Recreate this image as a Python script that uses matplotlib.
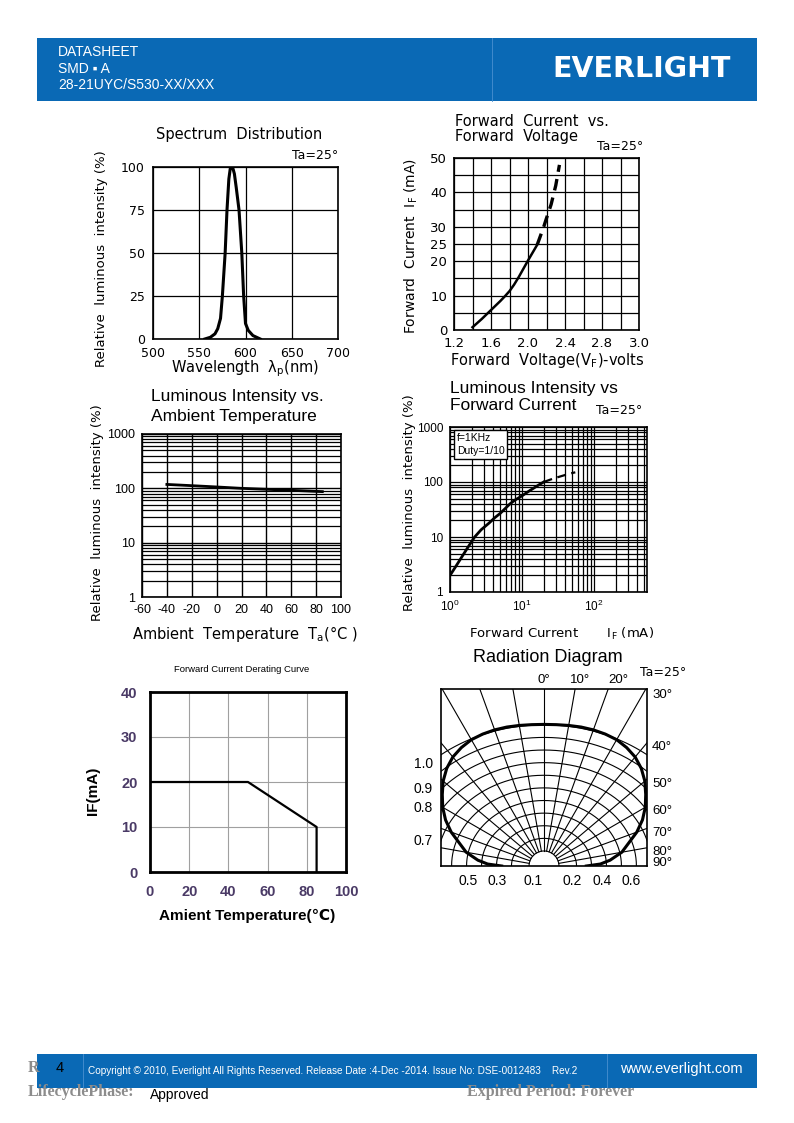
import numpy as np
import matplotlib
matplotlib.use('Agg')
import matplotlib.pyplot as plt
from matplotlib.patches import Rectangle
from matplotlib.transforms import blended_transform_factory

W, H = 794, 1123

# Spectrum distribution
spec_wl = [556, 562, 567, 570, 573, 575, 578, 580, 582, 583.5, 585, 586.5, 588, 590, 593, 596, 598, 600, 603, 608, 616]
spec_rel = [0, 1, 3, 6, 12, 25, 50, 75, 93, 99, 100, 99, 96, 88, 75, 50, 25, 9, 5, 2, 0]
spec_xticks = [500, 550, 600, 650, 700]
spec_yticks = [0, 25, 50, 75, 100]

# Forward current vs forward voltage
fv_solid_v = [1.40, 1.50, 1.60, 1.70, 1.75, 1.80, 1.85, 1.90, 1.95, 2.00, 2.05, 2.10]
fv_solid_i = [0.8, 3.2, 5.8, 8.4, 9.8, 11.3, 13.2, 15.4, 17.8, 20.2, 22.5, 24.8]
fv_dash_v = [2.10, 2.17, 2.20, 2.25, 2.30, 2.34]
fv_dash_i = [24.8, 30.0, 32.5, 36.5, 42.0, 48.0]
fv_xticks = [1.2, 1.6, 2.0, 2.4, 2.8, 3.2]
fv_xlabels = ['1.2', '1.6', '2.0', '2.4', '2.8', '3.0']
fv_yticks = [0, 10, 20, 25, 30, 40, 50]

# Luminous intensity vs ambient temperature
ta_temp = [-40, -20, 0, 20, 40, 60, 85]
ta_iv = [118, 112, 106, 100, 96, 92, 87]
ta_xticks = [-60, -40, -20, 0, 20, 40, 60, 80, 100]
log_yticks = [1, 10, 100, 1000]
log_ylabels = ['1', '10', '100', '1000']

# Luminous intensity vs forward current
if_solid_i = [1, 1.2, 1.5, 1.8, 2.2, 2.7, 3.5, 4.2, 5, 6.8, 8, 10, 12, 14, 17, 20]
if_solid_iv = [2, 2.9, 4.6, 6.7, 10, 13.5, 18, 22.5, 27, 40, 47, 56, 66, 75, 88, 100]
if_dash_i = [20, 25, 30, 36, 42, 48, 55]
if_dash_iv = [100, 111, 120, 129, 137, 144, 150]

# Derating curve
der_temp = [0, 50, 85, 85]
der_if = [20, 20, 10, 0]
der_xticks = [0, 20, 40, 60, 80, 100]
der_yticks = [0, 10, 20, 30, 40]

# Radiation diagram (relative radius vs angle)
rad_angle = [0, 5, 10, 15, 20, 25, 30, 35, 40, 45, 50, 55, 60, 65, 70, 75, 80, 85, 88, 90]
rad_rel = [1.0, 1.002, 1.008, 1.016, 1.023, 1.028, 1.03, 1.021, 1.005, 0.975, 0.933, 0.88,
           0.829, 0.77, 0.70, 0.62, 0.56, 0.47, 0.40, 0.30]
rad_bottom_labels = ['0.5', '0.3', '0.1', '0.2', '0.4', '0.6']
rad_left_labels = ['1.0', '0.9', '0.8', '0.7']
rad_right_angles = [30, 40, 50, 60, 70, 80, 90]
rad_top_angles = [0, 10, 20]

BLUE = '#0a69b5'
ARIAL = ['Liberation Sans', 'DejaVu Sans']
SERIF = ['Liberation Serif', 'DejaVu Serif']

plt.rcParams['font.family'] = ['DejaVu Sans']
plt.rcParams['axes.unicode_minus'] = False
fig = plt.figure(figsize=(W / 100, H / 100), dpi=100)


def fx(x):
    return x / W


def fy(y):
    return 1 - y / H


def add_ax(x0, y0, x1, y1):
    return fig.add_axes([fx(x0), fy(y1), (x1 - x0) / W, (y1 - y0) / H])


def ftext(x, y, s, **kw):
    kw.setdefault('va', 'center')
    return fig.text(fx(x), fy(y), s, **kw)


def frect(x0, y0, x1, y1, color, z=0):
    fig.add_artist(Rectangle((fx(x0), fy(y1)), (x1 - x0) / W, (y1 - y0) / H,
                             transform=fig.transFigure, facecolor=color,
                             edgecolor='none', zorder=z))


def frame(ax, lw=1.2):
    for s in ax.spines.values():
        s.set_linewidth(lw)
        s.set_color('black')


def label_font(ax, family, weight='normal'):
    for lab in ax.get_xticklabels() + ax.get_yticklabels():
        lab.set_family(family)
        lab.set_fontweight(weight)


# ---------------- header ----------------
frect(37, 38, 757, 101, BLUE)
fig.add_artist(plt.Line2D([fx(492), fx(492)], [fy(38), fy(101)], transform=fig.transFigure,
                          color='#4a90d0', lw=0.6))
ftext(58, 52, 'DATASHEET', color='white', fontsize=10, family=ARIAL)
ftext(58, 69, 'SMD ▪ A', color='white', fontsize=10, family=ARIAL)
ftext(58, 85, '28-21UYC/S530-XX/XXX', color='white', fontsize=10, family=ARIAL)
ftext(642, 69, 'EVERLIGHT', color='white', fontsize=20.5, fontweight='bold',
      ha='center', family=['DejaVu Sans'])

# ---------------- spectrum ----------------
ax1 = add_ax(153, 167, 338, 339)
ax1.plot(spec_wl, spec_rel, color='black', lw=2.2)
ax1.set_xlim(500, 700)
ax1.set_ylim(0, 100)
ax1.set_xticks(spec_xticks)
ax1.set_yticks(spec_yticks)
ax1.grid(color='black', lw=0.9)
ax1.tick_params(length=0, labelsize=9, pad=6)
frame(ax1)
ax1.text(1.0, 1.03, 'Ta=25°', transform=ax1.transAxes, ha='right', va='bottom', fontsize=9)
ftext(239, 135, 'Spectrum  Distribution', ha='center', fontsize=10.5)
ftext(101, 259, 'Relative  luminous  intensity (%)', ha='center', rotation=90, fontsize=9.5)
ftext(245, 369, 'Wavelength  λ$_{\\rm p}$(nm)', ha='center', fontsize=10.5)

# ---------------- forward current vs voltage ----------------
ax2 = add_ax(454, 158, 639, 330)
ax2.plot(fv_solid_v, fv_solid_i, color='black', lw=1.8)
ax2.plot(fv_dash_v, fv_dash_i, color='black', lw=2.4, dashes=(3.5, 2.2))
ax2.set_xlim(1.2, 3.2)
ax2.set_ylim(0, 50)
ax2.set_xticks(fv_xticks)
ax2.set_xticklabels(fv_xlabels)
ax2.set_xticks(np.arange(1.2, 3.21, 0.2), minor=True)
ax2.set_yticks(fv_yticks)
ax2.set_yticks(np.arange(0, 51, 5), minor=True)
ax2.grid(which='both', color='black', lw=0.9)
ax2.tick_params(which='both', length=0, labelsize=9.5, pad=5)
frame(ax2)
ftext(455, 122, 'Forward  Current  vs.', fontsize=10.5)
ftext(455, 137, 'Forward  Voltage', fontsize=10.5)
ftext(597, 147, 'Ta=25°', fontsize=9)
ftext(411, 246, 'Forward  Current  I$_{\\rm F}$ (mA)', ha='center', rotation=90, fontsize=10)
ftext(547, 361, 'Forward  Voltage(V$_{\\rm F}$)-volts', ha='center', fontsize=10.5)

# ---------------- luminous intensity vs ambient temperature ----------------
ax3 = add_ax(142, 434, 341, 597)
ax3.plot(ta_temp, ta_iv, color='black', lw=2.0)
ax3.set_yscale('log')
ax3.set_xlim(-60, 100)
ax3.set_ylim(1, 1000)
ax3.set_xticks(ta_xticks)
ax3.set_yticks(log_yticks)
ax3.set_yticklabels(log_ylabels)
ax3.grid(which='major', color='black', lw=1.0)
ax3.grid(which='minor', axis='y', color='black', lw=0.9)
ax3.tick_params(which='both', length=0, labelsize=9, pad=5)
label_font(ax3, ARIAL)
frame(ax3)
ftext(151, 397, 'Luminous Intensity vs.', fontsize=12.5, family=ARIAL)
ftext(151, 416, 'Ambient Temperature', fontsize=12.5, family=ARIAL)
ftext(97, 513, 'Relative  luminous  intensity (%)', ha='center', rotation=90, fontsize=9.5)
ftext(245, 634, 'Ambient  Temperature  T$_{\\rm a}$(°C )', ha='center', fontsize=10.5)

# ---------------- luminous intensity vs forward current ----------------
ax4 = add_ax(450, 427, 647, 592)
ax4.plot(if_solid_i, if_solid_iv, color='black', lw=2.0)
ax4.plot(if_dash_i, if_dash_iv, color='black', lw=1.6, dashes=(4, 2.5))
ax4.set_xscale('log')
ax4.set_yscale('log')
ax4.set_xlim(1, 10 ** (197 / 72))
ax4.set_ylim(1, 1000)
ax4.set_yticks(log_yticks)
ax4.set_yticklabels(log_ylabels)
ax4.grid(which='both', color='black', lw=0.9)
ax4.tick_params(which='both', length=0, labelsize=8.5, pad=5)
label_font(ax4, ARIAL)
frame(ax4)
ax4.text(0.035, 0.965, 'f=1KHz\nDuty=1/10', transform=ax4.transAxes, ha='left', va='top',
         fontsize=7.5, family=ARIAL, linespacing=1.4,
         bbox=dict(boxstyle='square,pad=0.25', fc='white', ec='black', lw=1.0))
ftext(450, 388, 'Luminous Intensity vs', fontsize=12.5, family=ARIAL)
ftext(450, 406, 'Forward Current', fontsize=12.5, family=ARIAL)
ftext(596, 411, 'Ta=25°', fontsize=9)
ftext(410, 503, 'Relative  luminous  intensity (%)', ha='center', rotation=90, fontsize=9.5)
ftext(562, 634, 'Forward Current       I$_{\\rm F}$ (mA)', ha='center', fontsize=9.5)

# ---------------- derating curve ----------------
ax5 = add_ax(150, 692, 346, 872)
ax5.plot(der_temp, der_if, color='black', lw=1.6)
ax5.set_xlim(0, 100)
ax5.set_ylim(0, 40)
ax5.set_xticks(der_xticks)
ax5.set_yticks(der_yticks)
ax5.grid(color='#a0a0a0', lw=0.8)
ax5.tick_params(length=0, labelsize=10.5, pad=9, labelcolor='#4a3a66')
label_font(ax5, ARIAL, 'bold')
frame(ax5, lw=2.0)
ftext(242, 669, 'Forward Current Derating Curve', ha='center', fontsize=6.8, family=ARIAL)
ftext(93, 791, 'IF(mA)', ha='center', rotation=90, fontsize=11, fontweight='bold', family=ARIAL)
ftext(247, 916, 'Amient Temperature(℃)', ha='center', fontsize=11, fontweight='bold',
      family=ARIAL)

# ---------------- radiation diagram ----------------
ax6 = add_ax(441, 689, 647, 866)
xl, yt = 0.73, 1.25
unit = 141.4
ax6.set_xlim(-xl, xl)
ax6.set_ylim(0, yt)
r0 = 15 / unit
for a in range(-90, 91, 10):
    t = np.radians(a)
    ax6.plot([r0 * np.sin(t), 3 * np.sin(t)], [r0 * np.cos(t), 3 * np.cos(t)],
             color='black', lw=0.8)
arc_t = np.radians(np.linspace(-90, 90, 361))
for k in range(11):
    ea = (15 + 2.6 * min(k, 1) + 15 * k) / unit
    eb = (15 + 12.6 * k) / unit
    ax6.plot(ea * np.sin(arc_t), eb * np.cos(arc_t), color='black', lw=0.8)
ang = np.radians(np.concatenate([-np.array(rad_angle[::-1]), np.array(rad_angle[1:])]))
rel = np.concatenate([np.array(rad_rel[::-1]), np.array(rad_rel[1:])])
ax6.plot(rel * np.sin(ang), rel * np.cos(ang), color='black', lw=2.2)
ax6.set_xticks([-0.54, -0.335, -0.08, 0.2, 0.41, 0.62])
ax6.set_xticklabels(rad_bottom_labels)
ax6.set_yticks([0.733, 0.556, 0.422, 0.188])
ax6.set_yticklabels(rad_left_labels)
ax6.tick_params(length=0, labelsize=10, pad=6)
label_font(ax6, ARIAL)
frame(ax6)
tr = blended_transform_factory(ax6.transAxes, ax6.transData)
for a in rad_right_angles:
    yy = xl / np.tan(np.radians(a)) - 0.03
    yy = min(max(yy, 0.02), 1.21)
    ax6.text(1.025, yy, f'{a}°', transform=tr, ha='left', va='center', fontsize=9.5,
             family=ARIAL, clip_on=False)
tr2 = blended_transform_factory(ax6.transData, ax6.transAxes)
for a in rad_top_angles:
    xx = yt * np.tan(np.radians(a)) * 1.15
    ax6.text(xx, 1.05, f'{a}°', transform=tr2, ha='center', va='center', fontsize=9.5,
             family=ARIAL, clip_on=False)
ftext(548, 658, 'Radiation Diagram', ha='center', fontsize=13, family=ARIAL)
ftext(640, 672, 'Ta=25°', fontsize=9)

# ---------------- footer ----------------
ftext(28, 1068, 'R', color='#8c8c8c', fontsize=11.5, fontweight='bold', family=SERIF)
frect(37, 1054, 757, 1088, BLUE, z=2)
for xv in (83, 607):
    fig.add_artist(plt.Line2D([fx(xv), fx(xv)], [fy(1054), fy(1088)], transform=fig.transFigure,
                              color='#4a90d0', lw=0.6, zorder=3))
ftext(60, 1068, '4', color='black', fontsize=10.5, ha='center', family=ARIAL, zorder=4)
ftext(88, 1071, 'Copyright © 2010, Everlight All Rights Reserved. Release Date :4-Dec -2014. '
      'Issue No: DSE-0012483    Rev.2', color='white', fontsize=7.2, family=ARIAL, zorder=4)
ftext(681, 1069, 'www.everlight.com', color='white', fontsize=10.5, ha='center', family=ARIAL,
      zorder=4)
ftext(28, 1092, 'LifecyclePhase:', color='#8c8c8c', fontsize=11.5, fontweight='bold', family=SERIF)
ftext(150, 1095, 'Approved', color='black', fontsize=10, family=ARIAL)
ftext(467, 1092, 'Expired Period: Forever', color='#8c8c8c', fontsize=11.5, fontweight='bold',
      family=SERIF)

fig.savefig('out.png', dpi=100)
